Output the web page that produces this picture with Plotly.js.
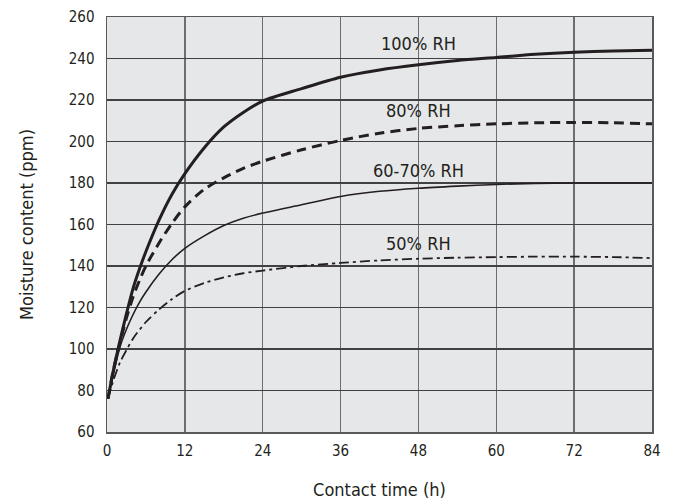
<!DOCTYPE html>
<html>
<head>
<meta charset="utf-8">
<script src="https://cdn.plot.ly/plotly-3.0.1.min.js"></script>
<style>html,body{margin:0;padding:0;background:#fff;}#chart{width:675px;height:500px;}</style>
</head>
<body>
<div id="chart"></div>
<script>
// Contact time (h) and moisture content (ppm) per relative humidity
const t100 = [0.15, 1, 2, 3, 4, 5, 6, 8, 10, 12, 15, 18, 21, 24, 30, 36, 42, 48, 54, 60, 66, 72, 78, 84];
const rh100 = [76, 90, 104, 117, 129, 138.5, 147, 162, 174.5, 184.5, 197, 207, 214, 219.5, 225.5, 231, 234.5, 237, 239, 240.5, 242, 243, 243.6, 244];

const t80 = [0.15, 1, 2, 3, 4, 5, 6, 8, 10, 12, 15, 18, 21, 24, 30, 36, 42, 48, 54, 60, 66, 72, 78, 84];
const rh80 = [76, 90, 103, 115, 125, 133, 140, 151, 160.5, 168.5, 177, 182.5, 187, 190.5, 196, 200.5, 204, 206.3, 207.6, 208.5, 209, 209.2, 209, 208.5];

const t6070 = [0.15, 1, 2, 3, 4, 5, 6, 8, 10, 12, 15, 18, 21, 24, 30, 36, 42, 48, 54, 60, 66, 72, 78, 84];
const rh6070 = [76, 88, 101, 109.5, 116.5, 122.5, 127.5, 136, 143, 148.5, 154.5, 159.5, 163, 165.5, 169.5, 173.5, 176, 177.5, 178.5, 179.3, 179.8, 180, 180, 180];

const t50 = [0.15, 1, 2, 3, 4, 6, 8, 10, 12, 15, 18, 21, 24, 30, 36, 42, 48, 54, 60, 66, 72, 78, 84];
const rh50 = [76, 85, 93.5, 99.5, 105, 113, 119, 124, 128, 131.8, 134.5, 136.5, 137.8, 140, 141.5, 142.7, 143.5, 144, 144.3, 144.5, 144.5, 144.3, 143.8];

const labelText = ["100% RH", "80% RH", "60-70% RH", "50% RH"];
const labelX = [48, 48, 48, 48];
const labelY = [247, 215, 186, 151];

const xTicks = [0, 12, 24, 36, 48, 60, 72, 84];
const yTicks = [60, 80, 100, 120, 140, 160, 180, 200, 220, 240, 260];

const FONT = "'DejaVu Sans Condensed', 'Liberation Sans Narrow', sans-serif";
const INK = '#231f20';

const traces = [
  {x: t100, y: rh100, mode: 'lines', line: {color: INK, width: 3, shape: 'spline', smoothing: 0.8}},
  {x: t80, y: rh80, mode: 'lines', line: {color: INK, width: 3, dash: '10px,6px', shape: 'spline', smoothing: 0.8}},
  {x: t6070, y: rh6070, mode: 'lines', line: {color: INK, width: 1.6, shape: 'spline', smoothing: 0.8}},
  {x: t50, y: rh50, mode: 'lines', line: {color: INK, width: 1.8, dash: '10px,4px,3px,4px', shape: 'spline', smoothing: 0.8}}
];

const annotations = labelText.map((txt, i) => ({
  x: labelX[i], y: labelY[i], xref: 'x', yref: 'y', text: txt, showarrow: false,
  font: {family: FONT, size: 18, color: INK}
}));

const layout = {
  width: 675, height: 500,
  margin: {l: 107, r: 23, t: 17, b: 68},
  paper_bgcolor: '#ffffff',
  plot_bgcolor: '#e6e7e8',
  showlegend: false,
  font: {family: FONT, size: 15, color: INK},
  xaxis: {
    range: [0, 84], tickvals: xTicks, ticktext: xTicks.map(String),
    showgrid: true, gridcolor: '#6d6e71', gridwidth: 1.3,
    zeroline: false, showline: true, linecolor: '#58595b', linewidth: 1.5, mirror: true,
    ticks: '', ticklabelstandoff: 4,
    tickfont: {family: FONT, size: 15, color: INK},
    title: {text: 'Contact time (h)', font: {family: FONT, size: 18, color: INK}, standoff: 25}
  },
  yaxis: {
    range: [60, 260], tickvals: yTicks, ticktext: yTicks.map(String),
    showgrid: true, gridcolor: '#414042', gridwidth: 1.1,
    zeroline: false, showline: true, linecolor: '#58595b', linewidth: 1.5, mirror: true,
    ticks: '', ticklabelstandoff: 8,
    tickfont: {family: FONT, size: 15, color: INK},
    title: {text: 'Moisture content (ppm)', font: {family: FONT, size: 18, color: INK}, standoff: 30}
  },
  annotations: annotations
};

Plotly.newPlot('chart', traces, layout, {displayModeBar: false, staticPlot: true});
</script>
</body>
</html>
